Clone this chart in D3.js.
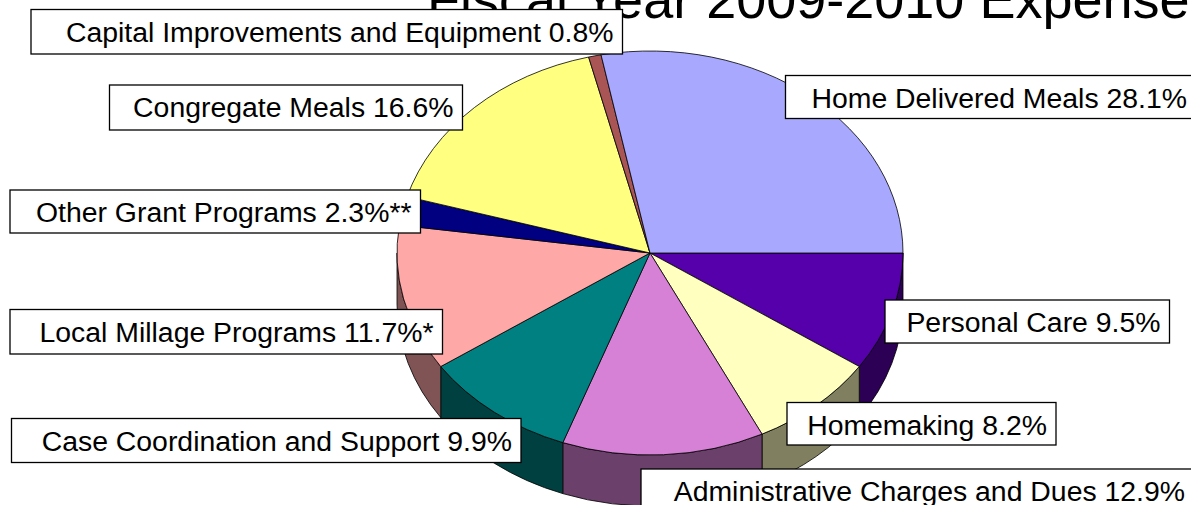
<!DOCTYPE html>
<html>
<head>
<meta charset="utf-8">
<script src="https://cdn.jsdelivr.net/npm/d3@7/dist/d3.min.js"></script>
<style>
  html, body { margin: 0; padding: 0; background: #fff; }
  svg { display: block; }
  text { font-family: "Liberation Sans", Arial, Helvetica, sans-serif; }
</style>
</head>
<body>
<div id="chart"></div>
<script>
// ---- Data ----
const titleText = "Fiscal Year 2009-2010 Expenses";
const categories = [
  "Personal Care",
  "Homemaking",
  "Administrative Charges and Dues",
  "Case Coordination and Support",
  "Local Millage Programs",
  "Other Grant Programs",
  "Congregate Meals",
  "Capital Improvements and Equipment",
  "Home Delivered Meals"
];
const values = [9.5, 8.2, 12.9, 9.9, 11.7, 2.3, 16.6, 0.8, 28.1];
const footnoteMarks = ["", "", "", "", "*", "**", "", "", ""];

// ---- Styles ----
const sliceColors = ["#5500AA", "#FFFFC0", "#D680D6", "#008080", "#FFA8A8", "#000080", "#FFFF80", "#AA5555", "#A8A8FF"];

// ---- Layout (label box placement: [left, top, right, bottom]) ----
const labelBoxes = [
  [885, 300, 1169.5, 343],
  [787, 402.5, 1056, 445],
  [641, 469, 1194, 513],
  [11.5, 418.5, 521, 462.5],
  [10, 309.5, 442.5, 354],
  [10, 190, 420.5, 233],
  [109.5, 85, 462.5, 130],
  [31, 9.5, 622.5, 54],
  [785.5, 75.5, 1196, 118.5]
];

const W = 1191, H = 505;
const cx = 650, cy = 253, rx = 253, ry = 202, depth = 51;

const svg = d3.select("#chart").append("svg")
  .attr("width", W).attr("height", H)
  .attr("viewBox", `0 0 ${W} ${H}`);
svg.append("rect").attr("width", W).attr("height", H).attr("fill", "#fff");

// Title (partially cropped at top)
svg.append("text")
  .attr("x", 427).attr("y", 18)
  .attr("font-size", 54)
  .attr("fill", "#000")
  .text(titleText);

const data = categories.map((c, i) => ({ name: c, v: values[i], mark: footnoteMarks[i], color: sliceColors[i], box: labelBoxes[i] }));

const pie = d3.pie().sort(null).value(d => d.v)
  .startAngle(Math.PI / 2).endAngle(Math.PI / 2 + 2 * Math.PI);
const arcs = pie(data);

const pt = (a, dy = 0) => [cx + rx * Math.sin(a), cy - ry * Math.cos(a) + dy];

function topPath(d) {
  const p0 = pt(d.startAngle), p1 = pt(d.endAngle);
  const large = (d.endAngle - d.startAngle) > Math.PI ? 1 : 0;
  return `M${cx},${cy}L${p0[0]},${p0[1]}A${rx},${ry} 0 ${large} 1 ${p1[0]},${p1[1]}Z`;
}
function wallPath(d) {
  const a0 = Math.max(d.startAngle, Math.PI / 2);
  const a1 = Math.min(d.endAngle, 3 * Math.PI / 2);
  if (a1 <= a0) return null;
  const p0 = pt(a0), p1 = pt(a1), q1 = pt(a1, depth), q0 = pt(a0, depth);
  return `M${p0[0]},${p0[1]}A${rx},${ry} 0 0 1 ${p1[0]},${p1[1]}L${q1[0]},${q1[1]}A${rx},${ry} 0 0 0 ${q0[0]},${q0[1]}Z`;
}
const darker = c => { const r = d3.rgb(c); return d3.rgb(r.r * 0.5, r.g * 0.5, r.b * 0.5).formatHex(); };

const g = svg.append("g");
g.selectAll("path.wall")
  .data(arcs.filter(d => wallPath(d)))
  .join("path")
  .attr("class", "wall")
  .attr("d", wallPath)
  .attr("fill", d => darker(d.data.color))
  .attr("stroke", "#000")
  .attr("stroke-width", 0.8)
  .attr("stroke-linejoin", "round");

g.selectAll("path.top")
  .data(arcs)
  .join("path")
  .attr("class", "top")
  .attr("d", topPath)
  .attr("fill", d => d.data.color)
  .attr("stroke", "#000")
  .attr("stroke-width", 0.8)
  .attr("stroke-linejoin", "round");

// Labels
const lab = svg.append("g").selectAll("g").data(arcs).join("g");
lab.append("rect")
  .attr("x", d => d.data.box[0])
  .attr("y", d => d.data.box[1])
  .attr("width", d => d.data.box[2] - d.data.box[0])
  .attr("height", d => d.data.box[3] - d.data.box[1])
  .attr("fill", "#fff")
  .attr("stroke", "#000")
  .attr("stroke-width", 1.3);
lab.append("text")
  .attr("x", d => d.data.box[2] - 9)
  .attr("y", d => d.data.box[1] + 32)
  .attr("text-anchor", "end")
  .attr("font-size", 28.4)
  .attr("fill", "#000")
  .text(d => `${d.data.name} ${d.data.v.toFixed(1)}%${d.data.mark}`);
</script>
</body>
</html>
